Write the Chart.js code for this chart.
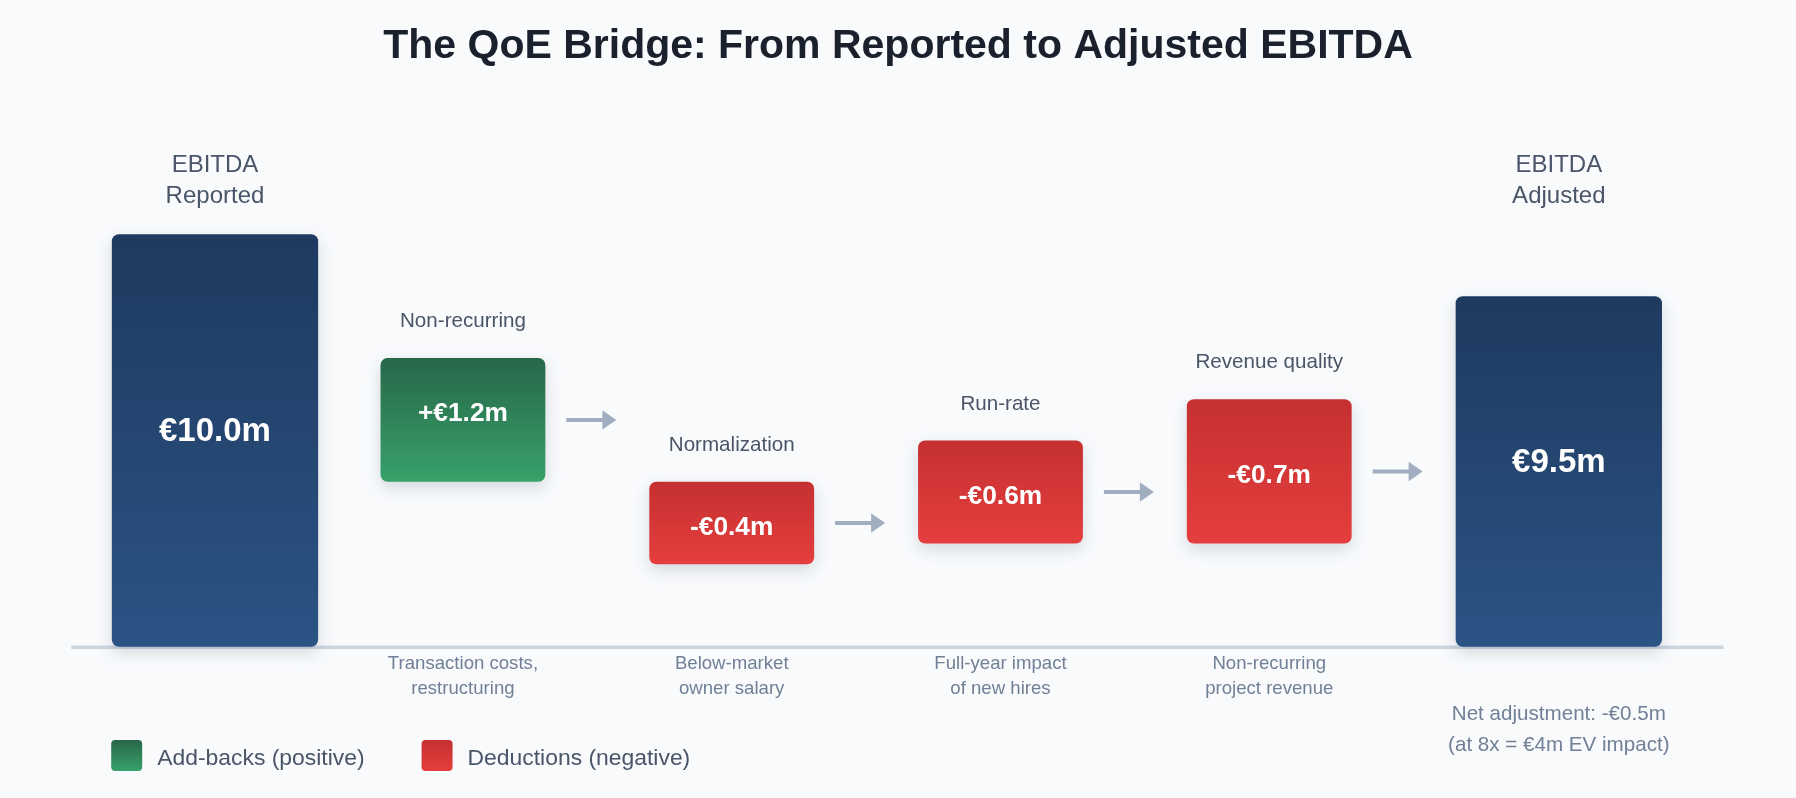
<!DOCTYPE html>
<html>
<head>
<meta charset="utf-8">
<script src="https://cdn.jsdelivr.net/npm/chart.js@4.4.1/dist/chart.umd.min.js"></script>
<style>
  html, body { margin: 0; padding: 0; background: #f8fafc; }
  #wrap { width: 1796px; height: 798px; position: relative; }
  canvas { display: block; }
</style>
</head>
<body>
<div id="wrap"><canvas id="chart" width="1796" height="798"></canvas></div>
<script>
// ---------------- DATA ----------------
const chartTitle = 'The QoE Bridge: From Reported to Adjusted EBITDA';
const categories = [
  ['EBITDA', 'Reported'],
  ['Non-recurring'],
  ['Normalization'],
  ['Run-rate'],
  ['Revenue quality'],
  ['EBITDA', 'Adjusted']
];
const descriptions = [
  null,
  ['Transaction costs,', 'restructuring'],
  ['Below-market', 'owner salary'],
  ['Full-year impact', 'of new hires'],
  ['Non-recurring', 'project revenue'],
  null
];
const kinds = ['total', 'add', 'deduct', 'deduct', 'deduct', 'total'];
const values = [10.0, 1.2, -0.4, -0.6, -0.7, 9.5];          // €m shown on each block
const barLows = [0, 4.0, 2.0, 2.5, 2.5, 0];                   // block extents as drawn
const barHighs = [10.0, 7.0, 4.0, 5.0, 6.0, 8.5];
const legendLabels = ['Add-backs (positive)', 'Deductions (negative)'];
const noteLines = ['Net adjustment: -€0.5m', '(at 8x = €4m EV impact)'];

// ---------------- STYLE ----------------
const FONT = "'Liberation Sans', Arial, Helvetica, sans-serif";
const W = 1796, H = 798;
const PAD = { left: 70.2, right: 113.2, top: 234.3, bottom: 151.3 };
const SLOT_SHIFT = 20.8;            // offset between total blocks and step blocks
const TOTAL_W = 206.3, STEP_W = 164.8;
const spacing = (W - PAD.left - PAD.right) / categories.length;
const catPct = (2 * SLOT_SHIFT) / spacing;

const GRAD = {
  total: ['#1e3a5f', '#2b5384'],
  add: ['#276749', '#38a169'],
  deduct: ['#c53030', '#e53e3e']
};

function fmt(v, kind) {
  const s = '€' + Math.abs(v).toFixed(1) + 'm';
  if (kind === 'total') return s;
  return (v >= 0 ? '+' : '-') + s;
}

function gradFill(ctx) {
  const chart = ctx.chart;
  const raw = ctx.raw;
  const kind = kinds[ctx.dataIndex];
  const cols = GRAD[kind] || GRAD.total;
  if (!chart.chartArea || !raw) return cols[0];
  const y = chart.scales.y;
  const g = chart.ctx.createLinearGradient(0, y.getPixelForValue(raw[1]), 0, y.getPixelForValue(raw[0]));
  g.addColorStop(0, cols[0]);
  g.addColorStop(1, cols[1]);
  return g;
}

const stepData = categories.map((_, i) => kinds[i] === 'total' ? null : [barLows[i], barHighs[i]]);
const totalData = categories.map((_, i) => kinds[i] === 'total' ? [barLows[i], barHighs[i]] : null);

function roundRect(c, x, y, w, h, r) {
  c.beginPath();
  c.moveTo(x + r, y);
  c.lineTo(x + w - r, y);
  c.quadraticCurveTo(x + w, y, x + w, y + r);
  c.lineTo(x + w, y + h - r);
  c.quadraticCurveTo(x + w, y + h, x + w - r, y + h);
  c.lineTo(x + r, y + h);
  c.quadraticCurveTo(x, y + h, x, y + h - r);
  c.lineTo(x, y + r);
  c.quadraticCurveTo(x, y, x + r, y);
  c.closePath();
}

const decor = {
  id: 'decor',
  beforeDraw(chart) {
    const c = chart.ctx;
    c.save();
    c.fillStyle = '#f8fafc';
    c.fillRect(0, 0, chart.width, chart.height);
    c.restore();
  },
  beforeDatasetsDraw(chart) {
    const c = chart.ctx, a = chart.chartArea;
    const y0 = chart.scales.y.getPixelForValue(0);
    c.save();
    c.strokeStyle = '#cbd5e0';
    c.lineWidth = 3.5;
    c.beginPath();
    c.moveTo(a.left + 1, y0 + 0.5);
    c.lineTo(a.right + 40.5, y0 + 0.5);
    c.stroke();
    c.restore();
  },
  beforeDatasetDraw(chart) {
    const c = chart.ctx;
    c.save();
    c.shadowColor = 'rgba(30, 41, 59, 0.16)';
    c.shadowBlur = 16;
    c.shadowOffsetX = 0;
    c.shadowOffsetY = 6;
  },
  afterDatasetDraw(chart) {
    chart.ctx.restore();
  },
  afterDatasetsDraw(chart) {
    const c = chart.ctx, a = chart.chartArea;
    const stepMeta = chart.getDatasetMeta(0).data;
    const totalMeta = chart.getDatasetMeta(1).data;
    const bars = categories.map((_, i) => kinds[i] === 'total' ? totalMeta[i] : stepMeta[i]);
    c.save();

    // title
    c.fillStyle = '#1a202c';
    c.textAlign = 'center';
    c.textBaseline = 'alphabetic';
    c.font = 'bold 41px ' + FONT;
    c.fillText(chartTitle, W / 2, 58);

    bars.forEach((b, i) => {
      if (!b) return;
      const top = Math.min(b.y, b.base), bot = Math.max(b.y, b.base);
      const cx = b.x;
      const kind = kinds[i];
      // category header
      c.fillStyle = '#4a5568';
      if (kind === 'total') {
        c.font = '24px ' + FONT;
        const lines = categories[i];
        c.fillText(lines[0], cx, a.top - 62);
        c.fillText(lines[1], cx, a.top - 31.6);
      } else {
        c.font = '20.6px ' + FONT;
        c.fillText(categories[i][0], cx, top - 31);
      }
      // value label
      const fs = kind === 'total' ? 33 : 26.3;
      const off = kind === 'total' ? -11 : (kind === 'add' ? -8.3 : 2.5);
      c.fillStyle = '#ffffff';
      c.font = 'bold ' + fs + 'px ' + FONT;
      c.fillText(fmt(values[i], kind), cx, (top + bot) / 2 + off + 0.358 * fs);
      // description under axis
      if (descriptions[i]) {
        c.fillStyle = '#718096';
        c.font = '18.6px ' + FONT;
        c.fillText(descriptions[i][0], cx, a.bottom + 22);
        c.fillText(descriptions[i][1], cx, a.bottom + 47);
      }
      // arrow after each step block
      if (kind !== 'total') {
        const x0 = cx + b.width / 2 + 21;
        const x1 = x0 + 50;
        const ym = (top + bot) / 2;
        c.strokeStyle = '#a0aec0';
        c.fillStyle = '#a0aec0';
        c.lineWidth = 4;
        c.beginPath();
        c.moveTo(x0, ym);
        c.lineTo(x1 - 13, ym);
        c.stroke();
        c.beginPath();
        c.moveTo(x1 - 14, ym - 9.7);
        c.lineTo(x1, ym);
        c.lineTo(x1 - 14, ym + 9.7);
        c.closePath();
        c.fill();
      }
    });

    // note under adjusted block
    const adj = bars[bars.length - 1];
    c.fillStyle = '#718096';
    c.font = '20.6px ' + FONT;
    c.fillText(noteLines[0], adj.x, a.bottom + 73.3);
    c.fillText(noteLines[1], adj.x, a.bottom + 104.3);

    // legend
    let lx = a.left + 41;
    const sq = 31, ly = 740;
    c.textAlign = 'left';
    c.font = '22.9px ' + FONT;
    ['add', 'deduct'].forEach((k, j) => {
      const g = c.createLinearGradient(0, ly, 0, ly + sq);
      g.addColorStop(0, GRAD[k][0]);
      g.addColorStop(1, GRAD[k][1]);
      c.fillStyle = g;
      roundRect(c, lx, ly, sq, sq, 4);
      c.fill();
      c.fillStyle = '#4a5568';
      c.fillText(legendLabels[j], lx + sq + 15, 765);
      lx = lx + sq + 15 + c.measureText(legendLabels[j]).width + 57;
    });
    c.restore();
  }
};

new Chart(document.getElementById('chart'), {
  type: 'bar',
  data: {
    labels: categories,
    datasets: [
      {
        label: 'Adjustments',
        data: stepData,
        backgroundColor: gradFill,
        borderWidth: 0,
        borderRadius: 7,
        borderSkipped: false,
        categoryPercentage: catPct,
        barPercentage: STEP_W / SLOT_SHIFT,
        clip: false
      },
      {
        label: 'EBITDA',
        data: totalData,
        backgroundColor: gradFill,
        borderWidth: 0,
        borderRadius: 7,
        borderSkipped: false,
        categoryPercentage: catPct,
        barPercentage: TOTAL_W / SLOT_SHIFT,
        clip: false
      }
    ]
  },
  options: {
    responsive: false,
    animation: false,
    layout: { padding: PAD },
    scales: {
      x: { type: 'category', display: false, offset: true, grid: { display: false } },
      y: { type: 'linear', display: false, min: 0, max: 10 }
    },
    plugins: {
      legend: { display: false },
      tooltip: { enabled: false },
      title: { display: false }
    }
  },
  plugins: [decor]
});
</script>
</body>
</html>
